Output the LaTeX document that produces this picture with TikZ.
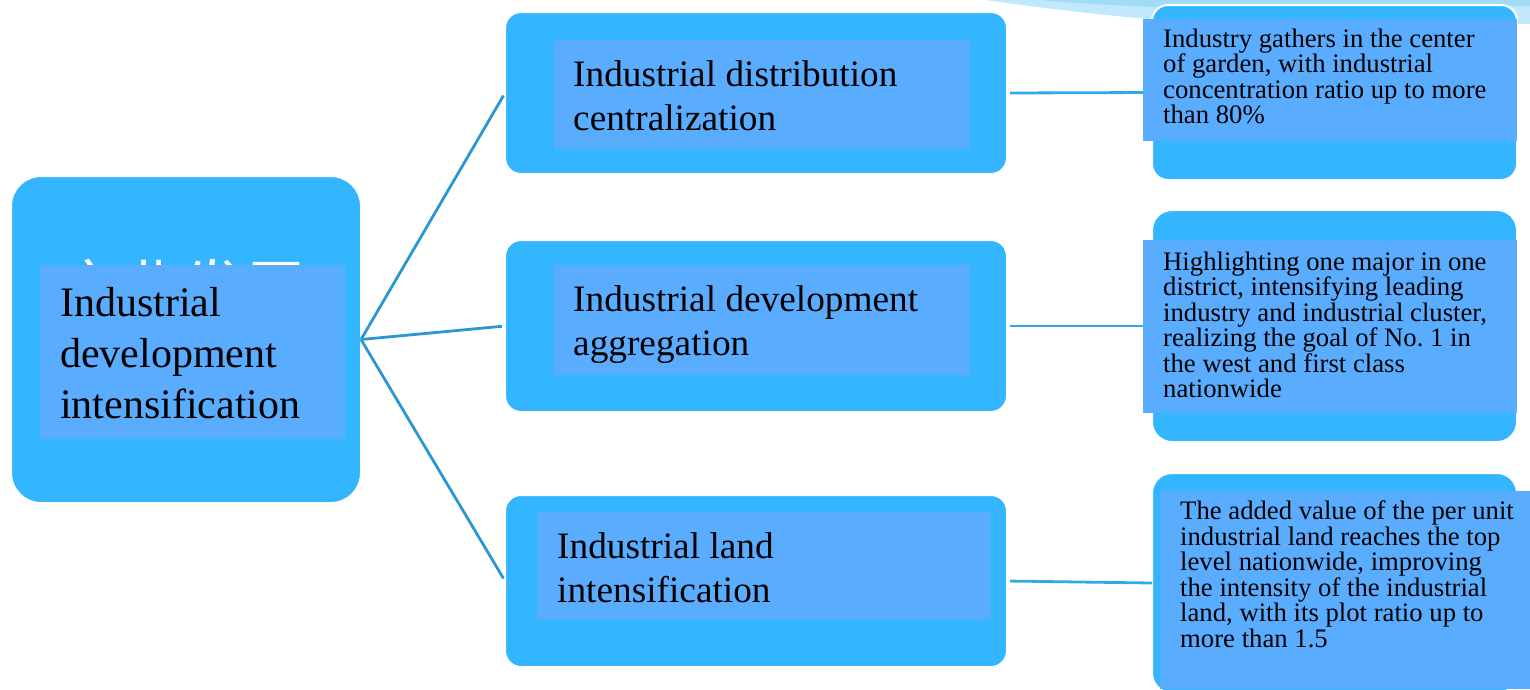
\documentclass[tikz,border=0pt]{standalone}
\usepackage{fontspec}
\setmainfont{Liberation Serif}
\newfontfamily\cjk{Noto Sans CJK SC}
\definecolor{outerblue}{HTML}{33B5FF}
\definecolor{innerblue}{HTML}{5AACFF}
\definecolor{linkdark}{HTML}{2A96D2}
\definecolor{linklight}{HTML}{2FA9E8}
\definecolor{swooshA}{HTML}{A2DBF8}
\definecolor{swooshB}{HTML}{C2E8FC}
\tikzset{
  outerbox/.style={fill=outerblue, draw=white, line width=2pt, inner sep=0pt, outer sep=0pt, anchor=north west},
  innerrect/.style={fill=innerblue, inner sep=0pt, outer sep=0pt, anchor=north west},
  bigtext/.style={anchor=base west, align=left, inner sep=0pt, font=\fontsize{42}{51}\selectfont},
  midtext/.style={anchor=base west, align=left, inner sep=0pt, font=\fontsize{37.3}{44.5}\selectfont},
  smalltext/.style={anchor=base west, align=left, inner sep=0pt, font=\fontsize{26.7}{25.5}\selectfont},
  leftlink/.style={draw=linkdark, line width=2.8pt},
  rightlink/.style={draw=linklight, line width=2.8pt}
}
\begin{document}
\begin{tikzpicture}[x=1pt,y=-1pt]
\useasboundingbox (0,0) rectangle (1530,689);
% decorative swoosh at top right
\fill[swooshB] (985,0) .. controls (1050,9) and (1110,16) .. (1160,20) -- (1530,24) -- (1530,0) -- cycle;
\fill[swooshA] (1040,0) .. controls (1140,9) and (1280,12) .. (1450,8) -- (1530,6) -- (1530,0) -- cycle;

% left box
\node[outerbox, rounded corners=30pt, minimum width=350pt, minimum height=327pt] (L) at (11,176) {};
\node[anchor=base west, inner sep=0pt, text=white, font=\cjk\fontsize{62}{62}\selectfont] (Lcjk) at (58,311) {产业发展};
\node[innerrect, minimum width=305pt, minimum height=174pt] (Li) at (40,265) {};
\node[bigtext] (Lt) at (60,418) {Industrial\\development\\intensification};

% middle boxes
\node[outerbox, rounded corners=16pt, minimum width=502pt, minimum height=162pt] (M1) at (505,12) {};
\node[innerrect, minimum width=416pt, minimum height=109pt] (M1i) at (554,40) {};
\node[midtext] (M1t) at (573,130.5) {Industrial distribution\\centralization};

\node[outerbox, rounded corners=16pt, minimum width=502pt, minimum height=172pt] (M2) at (505,240) {};
\node[innerrect, minimum width=416pt, minimum height=110pt] (M2i) at (554,265) {};
\node[midtext] (M2t) at (573,355.5) {Industrial development\\aggregation};

\node[outerbox, rounded corners=16pt, minimum width=502pt, minimum height=172pt] (M3) at (505,495) {};
\node[innerrect, minimum width=454pt, minimum height=108pt] (M3i) at (537,512) {};
\node[midtext] (M3t) at (557,602.5) {Industrial land\\intensification};

% right boxes
\node[outerbox, rounded corners=16pt, minimum width=365pt, minimum height=175pt] (R1) at (1152,5) {};
\node[outerbox, rounded corners=20pt, minimum width=365pt, minimum height=232pt] (R2) at (1152,210) {};
\node[outerbox, rounded corners=20pt, minimum width=365pt, minimum height=220pt] (R3) at (1152,473) {};

% connectors
\draw[leftlink, shorten >=3pt] (L.east) -- (M1.west);
\draw[leftlink, shorten >=3pt] (L.east) -- (M2.west);
\draw[leftlink, shorten >=3pt] (L.east) -- (M3.west);
\draw[rightlink, shorten <=3pt] (M1.east) -- (R1.west);
\draw[rightlink, shorten <=3pt] (M2.east) -- (R2.west);
\draw[rightlink, shorten <=3pt] (M3.east) -- (R3.west);

% right inner rects and texts
\node[innerrect, minimum width=374pt, minimum height=122pt] (R1i) at (1143,19) {};
\node[smalltext] (R1t) at (1163,123.5) {Industry gathers in the center\\of garden, with industrial\\concentration ratio up to more\\than 80\%};

\node[innerrect, minimum width=374pt, minimum height=173pt] (R2i) at (1143,240) {};
\node[smalltext] (R2t) at (1163,397.5) {Highlighting one major in one\\district, intensifying leading\\industry and industrial cluster,\\realizing the goal of No.~1 in\\the west and first class\\nationwide};

\node[innerrect, minimum width=370pt, minimum height=198pt] (R3i) at (1160,491) {};
\node[smalltext] (R3t) at (1180,647) {The added value of the per unit\\industrial land reaches the top\\level nationwide, improving\\the intensity of the industrial\\land, with its plot ratio up to\\more than 1.5};
\end{tikzpicture}
\end{document}
